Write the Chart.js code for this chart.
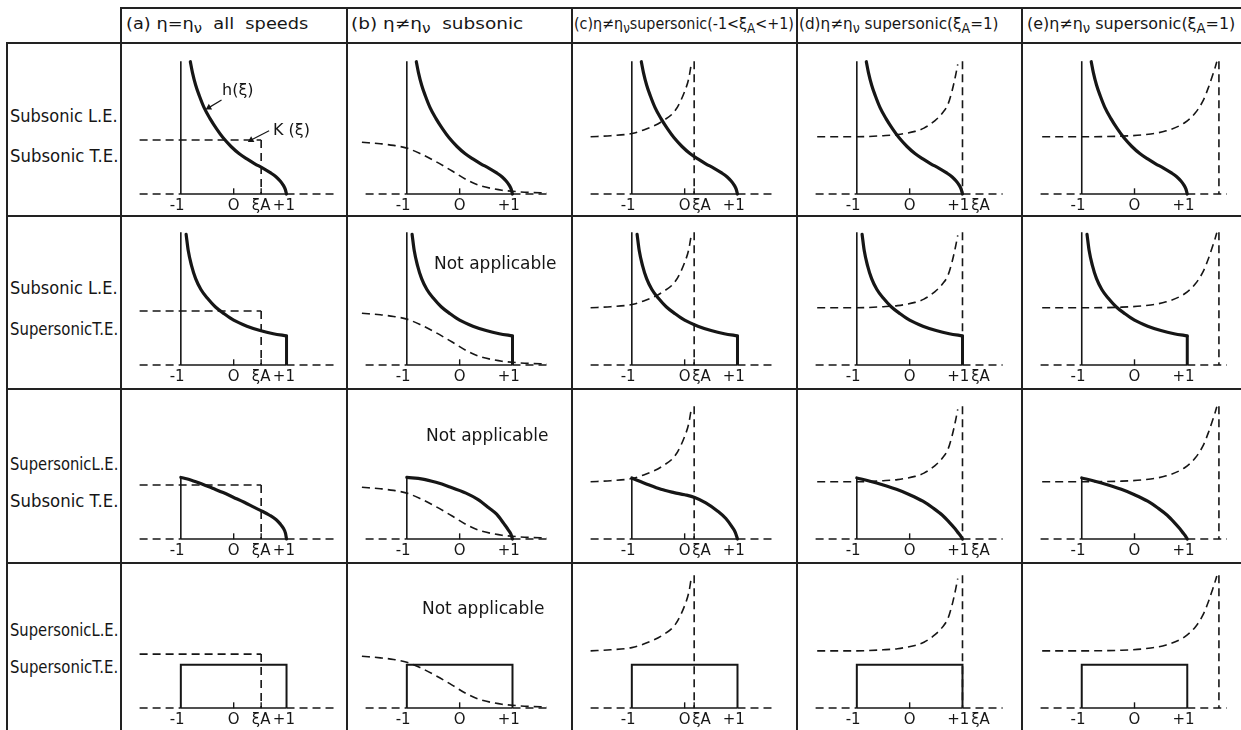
<!DOCTYPE html>
<html><head><meta charset="utf-8">
<script src="https://cdn.jsdelivr.net/npm/chart.js@4.4.1/dist/chart.umd.min.js"></script>
<style>
html,body{margin:0;padding:0;background:#fff;}
#wrap{position:relative;width:1241px;height:730px;overflow:hidden;font-family:"DejaVu Sans",sans-serif;color:#161616;}
.hl{position:absolute;height:2px;background:#222;z-index:5;}
.vl{position:absolute;width:2px;background:#222;z-index:5;}
.txt{position:absolute;white-space:nowrap;transform-origin:0 50%;z-index:6;}
canvas{position:absolute;}
</style></head><body><div id="wrap"></div>
<script>
// ---------------- data ----------------
const columnKeys = ['a','b','c','d','e'];
const headerHtml = [
  '(a) η=η<sub>ν</sub>&nbsp; all&nbsp; speeds',
  '(b) η≠η<sub>ν</sub>&nbsp; subsonic',
  '(c)η≠η<sub>ν</sub>supersonic(-1&lt;ξ<sub>A</sub>&lt;+1)',
  '(d)η≠η<sub>ν</sub> supersonic(ξ<sub>A</sub>=1)',
  '(e)η≠η<sub>ν</sub> supersonic(ξ<sub>A</sub>=1)'
];
const rowLabels = [
  ['Subsonic L.E.', 'Subsonic T.E.'],
  ['Subsonic L.E.', 'SupersonicT.E.'],
  ['SupersonicL.E.', 'Subsonic T.E.'],
  ['SupersonicL.E.', 'SupersonicT.E.']
];
const notApplicable = 'Not applicable';

// position of ξA for each column (b has none)
const xiA = {a: 0.52, c: 0.18, d: 1.0, e: 1.6};
// tick labels along ξ for each column (anchor of each label)
const tickValues = {
  a: [-1.07, 0, 0.52, 0.95],
  b: [-1.07, 0, 0.93],
  c: [-1.07, 0, 0.32, 0.93],
  d: [-1.07, 0, 0.92, 1.34],
  e: [-1.07, 0, 0.93]
};
const tickLabels = {
  a: ['-1', 'O', 'ξA', '+1'],
  b: ['-1', 'O', '+1'],
  c: ['-1', 'O', 'ξA', '+1'],
  d: ['-1', 'O', '+1', 'ξA'],
  e: ['-1', 'O', '+1']
};
const tickMarks = {a: [0, 0.52], b: [0], c: [0, 0.18], d: [0], e: [0]};

// dashed base line extents
const baseLeft = -1.78;
const baseRight = {a: 1.92, b: 1.65, c: 1.72, d: 1.76, e: 1.75};
const axisTop = 2.46;      // height of ξ=-1 axis in rows 1-2
const kTop = 2.46;         // top of the dashed ξ=ξA line

// h(ξ) curves
const hRow1Xi = [-0.82,-0.78,-0.72,-0.65,-0.56,-0.45,-0.32,-0.2,-0.05,0.1,0.25,0.4,0.55,0.7,0.8,0.88,0.94,0.975,1.0];
const hRow1   = [2.45,2.25,2.02,1.82,1.6,1.4,1.2,1.04,0.88,0.75,0.65,0.56,0.48,0.39,0.32,0.24,0.16,0.09,0];

const hRow2Xi = [-0.9,-0.86,-0.8,-0.72,-0.62,-0.5,-0.35,-0.18,0,0.25,0.5,0.75,1.0];
const hRow2   = [2.42,2.12,1.85,1.6,1.4,1.24,1.08,0.95,0.83,0.72,0.64,0.58,0.54];

const hRow3aXi = [-1,-0.8,-0.6,-0.4,-0.2,0,0.2,0.4,0.55,0.68,0.8,0.88,0.94,0.98,1.0];
const hRow3a   = [1.14,1.09,1.02,0.94,0.86,0.77,0.68,0.58,0.51,0.44,0.36,0.28,0.2,0.11,0];
const hRow3bXi = [-1,-0.7,-0.45,-0.2,0.12,0.35,0.55,0.7,0.84,0.92,0.97,1.0];
const hRow3b   = [1.14,1.11,1.05,0.97,0.85,0.73,0.58,0.46,0.28,0.17,0.09,0];
const hRow3cXi = [-1,-0.7,-0.45,-0.2,0,0.19,0.4,0.62,0.78,0.9,0.96,1.0];
const hRow3c   = [1.13,1.01,0.92,0.86,0.82,0.77,0.67,0.52,0.38,0.22,0.12,0];
const hRow3deXi = [-1,-0.75,-0.5,-0.25,0,0.25,0.45,0.62,0.76,0.86,0.93,0.97,1.0];
const hRow3de   = [1.13,1.07,1.0,0.92,0.82,0.7,0.57,0.44,0.3,0.19,0.1,0.05,0];

const hRow4 = 0.8;   // constant h for supersonic L.E. and T.E.

// K(ξ) curves
const kLevelA = 1.0;
const kBXi = [-1.85,-1.5,-1.25,-1,-0.75,-0.45,-0.15,0.12,0.4,0.62,0.8,1.0,1.3,1.65];
const kB   = [0.96,0.93,0.9,0.85,0.75,0.6,0.43,0.27,0.15,0.1,0.07,0.05,0.03,0.02];
const kCXi = [-1.78,-1.4,-1.0,-0.74,-0.42,-0.17,0.0,0.08,0.12];
const kC   = [1.06,1.08,1.12,1.2,1.35,1.56,1.9,2.15,2.38];
const kDXi = [-1.75,-1.0,-0.5,-0.23,0.1,0.27,0.48,0.62,0.72,0.8,0.87,0.91];
const kD   = [1.06,1.06,1.08,1.1,1.16,1.22,1.36,1.5,1.65,1.9,2.2,2.4];
const kEXi = [-1.75,-1.0,-0.3,0.2,0.6,0.95,1.15,1.3,1.4,1.48,1.53,1.56];
const kE   = [1.06,1.06,1.07,1.1,1.17,1.32,1.5,1.73,1.97,2.2,2.35,2.45];

// annotation arrows in panel (a), row 1
const arrowH = {xi: [-0.23, -0.47], y: [1.74, 1.6]};
const arrowK = {xi: [0.67, 0.33], y: [1.17, 1.0]};

// ---------------- layout ----------------
const INK = '#161616';
const colLeft = [121, 347, 572, 797, 1022, 1241];
const rowTop = [44, 216, 389, 563, 730];
const baselineOffset = [150, 149, 150, 145];
const PX_PER_Y = 56, PX_PER_XI = 55.5, X_MIN = -2.03;

const wrap = document.getElementById('wrap');
function line(cls, x, y, len) {
  const d = document.createElement('div');
  d.className = cls;
  d.style.left = x + 'px'; d.style.top = y + 'px';
  if (cls === 'hl') d.style.width = len + 'px'; else d.style.height = len + 'px';
  wrap.appendChild(d);
}
function text(html, x, yc, size, width, family) {
  const d = document.createElement('div');
  d.className = 'txt';
  d.innerHTML = html;
  d.style.fontSize = size + 'px';
  if (family) d.style.fontFamily = family;
  d.style.left = x + 'px';
  wrap.appendChild(d);
  const h = d.offsetHeight;
  d.style.top = (yc - h / 2) + 'px';
  if (width) { const w = d.offsetWidth; d.style.transform = 'scaleX(' + (width / w) + ')'; }
  return d;
}

// grid lines
line('hl', 120, 7, 1121);
line('hl', 6, 42, 1235);
[215, 388, 562].forEach(y => line('hl', 6, y, 1235));
line('vl', 6, 42, 688);
[120, 346, 571, 796, 1021].forEach(x => line('vl', x, 7, 723));

// headers
const hdrX = [126, 351, 574, 799, 1027];
const hdrW = [182, 172, 220, 200, 208];
headerHtml.forEach((h, i) => text(h, hdrX[i], 25, 16, hdrW[i]));

// row labels
const labY = [[72, 112], [72, 113], [75, 112], [67, 104]];
rowLabels.forEach((pair, r) => {
  text(pair[0], 10, rowTop[r] + labY[r][0], 17, 108, '"DejaVu Sans Condensed", "DejaVu Sans"');
  text(pair[1], 10, rowTop[r] + labY[r][1], 17, 108, '"DejaVu Sans Condensed", "DejaVu Sans"');
});

// ---------------- charts ----------------
function ds(xs, ys, style) {
  return Object.assign({
    data: xs.map((x, i) => ({x: x, y: ys[i]})),
    showLine: true, pointRadius: 0, borderColor: INK, backgroundColor: INK,
    clip: false, fill: false, tension: 0, borderWidth: 1.6
  }, style || {});
}
const THICK = {borderWidth: 3.2, cubicInterpolationMode: 'monotone', borderCapStyle: 'round'};
const THIN = {borderWidth: 1.6};
const DASH = {borderWidth: 1.6, borderDash: [8, 5]};
const DASHC = {borderWidth: 1.6, borderDash: [8, 5], cubicInterpolationMode: 'monotone'};

function panelDatasets(col, r) {
  const k = columnKeys[col];
  const out = [];
  // base line
  out.push(ds([-1, 1], [0, 0], THIN));
  out.push(ds([baseLeft, -1], [0, 0], DASH));
  out.push(ds([1, baseRight[k]], [0, 0], DASH));
  // h(ξ)
  if (r === 0) {
    out.push(ds([-1, -1], [0, axisTop], THIN));
    out.push(ds(hRow1Xi, hRow1, THICK));
  } else if (r === 1) {
    out.push(ds([-1, -1], [0, axisTop], THIN));
    out.push(ds(hRow2Xi, hRow2, THICK));
    out.push(ds([1, 1], [hRow2[hRow2.length - 1], 0], {borderWidth: 3}));
  } else if (r === 2) {
    const xs = k === 'a' ? hRow3aXi : k === 'b' ? hRow3bXi : k === 'c' ? hRow3cXi : hRow3deXi;
    const ys = k === 'a' ? hRow3a : k === 'b' ? hRow3b : k === 'c' ? hRow3c : hRow3de;
    out.push(ds([-1, -1], [0, ys[0]], THIN));
    out.push(ds(xs, ys, THICK));
  } else {
    out.push(ds([-1, -1, 1, 1], [0, hRow4, hRow4, 0], {borderWidth: 2}));
  }
  // K(ξ)
  if (k === 'a') {
    out.push(ds([baseLeft, xiA.a], [kLevelA, kLevelA], DASH));
    out.push(ds([xiA.a, xiA.a], [kLevelA, 0], DASH));
  } else if (k === 'b') {
    out.push(ds(kBXi, kB, DASHC));
  } else {
    const xs = k === 'c' ? kCXi : k === 'd' ? kDXi : kEXi;
    const ys = k === 'c' ? kC : k === 'd' ? kD : kE;
    out.push(ds(xs, ys, DASHC));
    out.push(ds([xiA[k], xiA[k]], [kTop, 0], DASH));
  }
  // small tick marks on the ξ axis
  out.push({data: tickMarks[k].map(x => ({x: x, y: 0.05})), showLine: false, pointStyle: 'line',
            pointRadius: 3, rotation: 90, borderWidth: 1.4, borderColor: INK, clip: false});
  // arrows of the annotations
  if (k === 'a' && r === 0) {
    [arrowH, arrowK].forEach(a => {
      out.push(ds(a.xi, a.y, {borderWidth: 1.2, pointStyle: 'triangle', pointRadius: [0, 2.6],
                              rotation: [0, 240], borderColor: INK, backgroundColor: INK}));
    });
  }
  return out;
}

for (let r = 0; r < 4; r++) {
  for (let c = 0; c < 5; c++) {
    const k = columnKeys[c];
    const w = colLeft[c + 1] - colLeft[c];
    const h = rowTop[r + 1] - rowTop[r];
    const base = baselineOffset[r];
    const cv = document.createElement('canvas');
    cv.width = w; cv.height = h;
    cv.style.left = colLeft[c] + 'px'; cv.style.top = rowTop[r] + 'px';
    cv.style.width = w + 'px'; cv.style.height = h + 'px';
    wrap.appendChild(cv);
    new Chart(cv, {
      type: 'scatter',
      data: {datasets: panelDatasets(c, r)},
      options: {
        responsive: false, animation: false, devicePixelRatio: 1,
        layout: {padding: 0},
        plugins: {legend: {display: false}, tooltip: {enabled: false}},
        scales: {
          x: {
            type: 'linear', min: X_MIN, max: X_MIN + w / PX_PER_XI,
            grid: {display: false, drawTicks: false}, border: {display: false},
            afterBuildTicks: s => { s.ticks = tickValues[k].map(v => ({value: v})); },
            afterFit: s => { s.height = h - base; },
            ticks: {autoSkip: false, maxRotation: 0, minRotation: 0, padding: 3, color: INK,
                    font: {family: 'DejaVu Sans', size: 15},
                    callback: (v, i) => tickLabels[k][i]}
          },
          y: {type: 'linear', display: false, min: 0, max: base / PX_PER_Y}
        }
      }
    });
  }
}

// annotations
text('h(ξ)', 222, 44 + 45, 16);
text('K (ξ)', 273, 44 + 85, 16);
[[1, 148, 47], [2, 140, 46], [3, 136, 45]].forEach(a => {
  const d = text(notApplicable, 0, rowTop[a[0]] + a[2], 17);
  d.style.left = (colLeft[1] + a[1] - d.offsetWidth / 2) + 'px';
});
</script></body></html>
